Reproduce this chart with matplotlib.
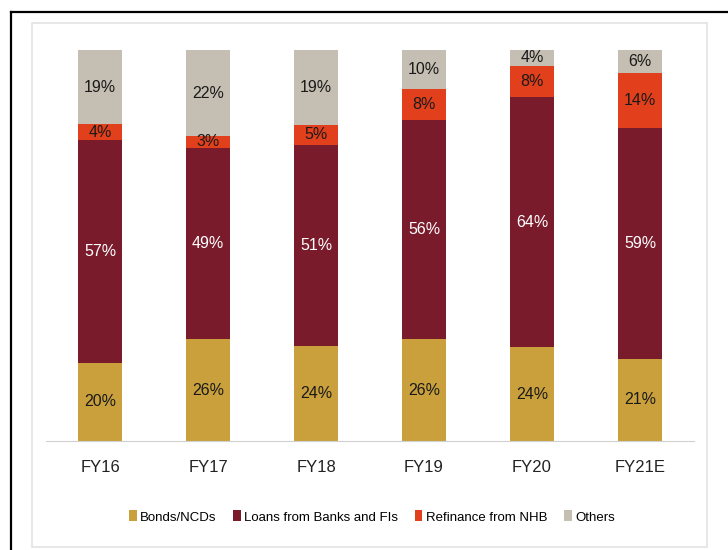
import matplotlib.pyplot as plt
from matplotlib.lines import Line2D
from matplotlib.patches import Rectangle

# Funding mix by source, % share per year
years = ['FY16', 'FY17', 'FY18', 'FY19', 'FY20', 'FY21E']
bonds = [20, 26, 24, 26, 24, 21]
bank_loans = [57, 49, 51, 56, 64, 59]
nhb_refinance = [4, 3, 5, 8, 8, 14]
others = [19, 22, 19, 10, 4, 6]

series = [
    ('Bonds/NCDs', bonds, '#C9A03C', '#1a1a1a'),
    ('Loans from Banks and FIs', bank_loans, '#7A1B2C', 'white'),
    ('Refinance from NHB', nhb_refinance, '#E2401C', '#1a1a1a'),
    ('Others', others, '#C5BEB2', '#1a1a1a'),
]

plt.rcParams['font.family'] = ['Liberation Sans Narrow', 'Liberation Sans', 'DejaVu Sans']

fig = plt.figure(figsize=(7.28, 5.5), dpi=100)
ax = fig.add_axes([46 / 728, 1 - 441 / 550, 648 / 728, 391 / 550])

# outer frame: black lines on top and left, pale box inside
fig.add_artist(Line2D([11 / 728, 1.0], [1 - 12 / 550, 1 - 12 / 550], color='black', lw=1.6))
fig.add_artist(Line2D([11 / 728, 11 / 728], [0, 1 - 12 / 550], color='black', lw=1.6))
fig.add_artist(Rectangle((32 / 728, 3 / 550), 675 / 728, 524 / 550, fill=False,
                         edgecolor='#e3e3e3', lw=1.2, transform=fig.transFigure))

# 100% stacked: each column scaled to its own total
totals = [sum(col) for col in zip(*(s[1] for s in series))]

x = range(len(years))
bottom = [0.0] * len(years)
handles = []
for name, vals, color, txt in series:
    heights = [v / t * 100 for v, t in zip(vals, totals)]
    bars = ax.bar(x, heights, width=0.41, bottom=bottom, color=color, label=name)
    handles.append(bars)
    for i, v in enumerate(vals):
        ax.text(i, bottom[i] + heights[i] / 2, f'{v}%', ha='center', va='center',
                fontsize=11.5, color=txt)
    bottom = [b + h for b, h in zip(bottom, heights)]

ax.set_xlim(-0.5, len(years) - 0.5)
ax.set_ylim(0, 100)
ax.set_xticks(list(x))
ax.set_xticklabels(years, fontsize=12, color='#222222')
ax.tick_params(axis='x', length=0, pad=14)
ax.set_yticks([])
for side in ['top', 'left', 'right']:
    ax.spines[side].set_visible(False)
ax.spines['bottom'].set_color('#d0d0d0')

fig.legend(handles=handles, loc='center', bbox_to_anchor=(372 / 728, 1 - 517 / 550),
           ncol=4, frameon=False, fontsize=9.5, handlelength=0.55, handleheight=0.9,
           handletextpad=0.25, columnspacing=1.3)

fig.savefig('out.png', dpi=100)
